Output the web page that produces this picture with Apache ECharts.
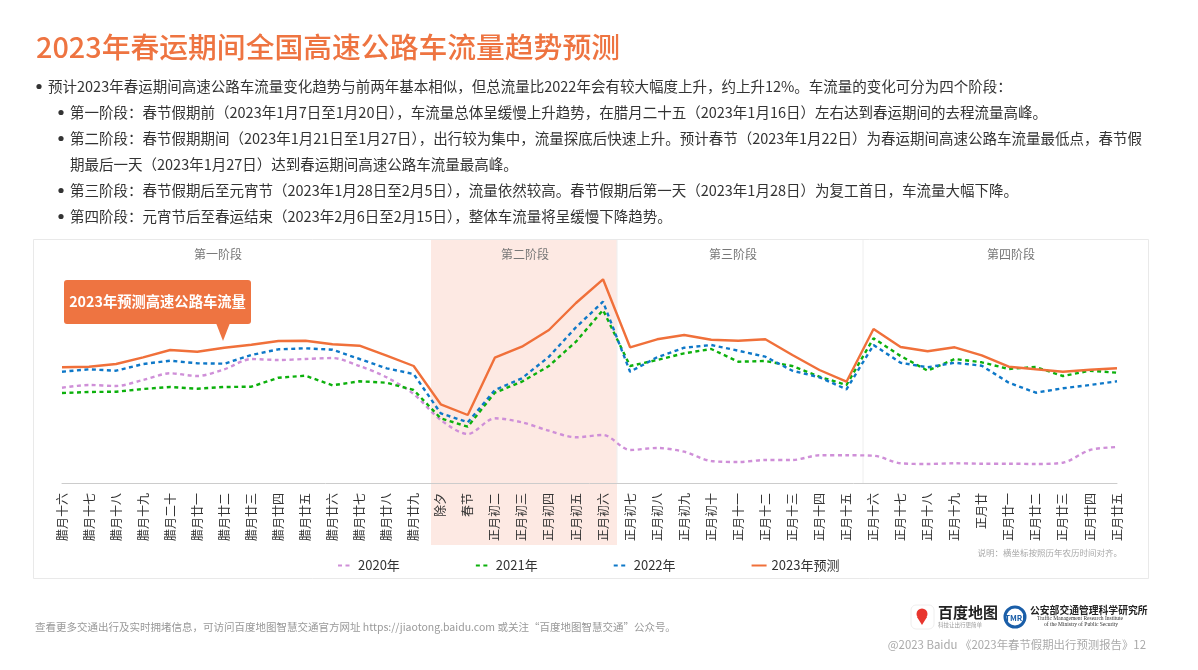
<!DOCTYPE html>
<html>
<head>
<meta charset="utf-8">
<title>2023年春运期间全国高速公路车流量趋势预测</title>
<script src="https://cdn.jsdelivr.net/npm/echarts@6/dist/echarts.min.js"></script>
<style>
  html, body { margin: 0; padding: 0; background: #fff; }
  #main { width: 1198px; height: 670px; }
</style>
</head>
<body>
<div id="main"></div>
<script>
// 横坐标：农历日期
var categories = ['腊月十六','腊月十七','腊月十八','腊月十九','腊月二十','腊月廿一','腊月廿二','腊月廿三','腊月廿四','腊月廿五','腊月廿六','腊月廿七','腊月廿八','腊月廿九','除夕','春节','正月初二','正月初三','正月初四','正月初五','正月初六','正月初七','正月初八','正月初九','正月初十','正月十一','正月十二','正月十三','正月十四','正月十五','正月十六','正月十七','正月十八','正月十九','正月廿','正月廿一','正月廿二','正月廿三','正月廿四','正月廿五'];

// 原图没有纵轴，数值为从图上读出的相对流量
var flow2020 = [95.3,98,97,103,109.7,107,113.7,124,123,124,125,117,105.7,89,63,49,64.7,60.7,52.3,45.7,48,33,35,31.3,22,21,23,23,27.7,27.7,27.3,19.7,19,19.7,19.3,19.3,19,20.3,33,36];
var flow2021 = [90,91,91.3,94,96,94.3,96,96.3,105.3,107.3,97.7,101.7,100.3,93,64.7,56.3,90.3,101.3,117,141.3,173,117,123,129.7,134,121.3,122,117,106.3,98,144.7,127,112.3,124,120.7,114,116,107,112.3,110.3];
var flow2022 = [111.3,113.7,112.3,119,122.3,119.7,119.3,128,133.7,134.7,133.3,124,114.7,109,69.7,60.7,93,104.7,126.3,155.7,181.3,111.3,125.7,135.3,138,132.3,126.3,112.3,105.7,93.7,138,120.3,115.7,120.3,117.3,100.3,90.3,94.7,98,101.7];
var flow2023 = [115.7,116.3,119,125.7,133,131.3,135.3,138.3,142,142.3,138.7,137.3,127.3,117,78.7,68,125.3,136.3,153,180,203.7,135.7,143.7,148,143.3,142.3,143.7,128,113,101.3,154,136,131.7,135.7,127.7,116.3,113.7,111.3,113.3,114.7];

var seriesNames = ['2020年','2021年','2022年','2023年预测'];
var phaseNames = ['第一阶段','第二阶段','第三阶段','第四阶段'];
var bodyLines = [
  '预计2023年春运期间高速公路车流量变化趋势与前两年基本相似，但总流量比2022年会有较大幅度上升，约上升12%。车流量的变化可分为四个阶段：',
  '第一阶段：春节假期前（2023年1月7日至1月20日），车流量总体呈缓慢上升趋势，在腊月二十五（2023年1月16日）左右达到春运期间的去程流量高峰。',
  '第二阶段：春节假期期间（2023年1月21日至1月27日），出行较为集中，流量探底后快速上升。预计春节（2023年1月22日）为春运期间高速公路车流量最低点，春节假',
  '期最后一天（2023年1月27日）达到春运期间高速公路车流量最高峰。',
  '第三阶段：春节假期后至元宵节（2023年1月28日至2月5日），流量依然较高。春节假期后第一天（2023年1月28日）为复工首日，车流量大幅下降。',
  '第四阶段：元宵节后至春运结束（2023年2月6日至2月15日），整体车流量将呈缓慢下降趋势。'
];

var FONT = '"Noto Sans CJK SC", "Noto Sans", sans-serif';
var ORANGE = '#ee7441';

function txt(x, y, s, size, color, extra) {
  var style = { x: x, y: y, text: s, fontFamily: FONT, fontSize: size, fill: color, textVerticalAlign: 'middle', textAlign: 'left' };
  for (var k in extra) style[k] = extra[k];
  return { type: 'text', z: 20, style: style };
}
function dot(x, y) {
  return { type: 'circle', z: 20, shape: { cx: x, cy: y, r: 2.6 }, style: { fill: '#333' } };
}

var graphics = [
  // 图表外框、第二阶段底色、分隔线
  { type: 'rect', z: -3, shape: { x: 33.5, y: 239.5, width: 1115, height: 339 }, style: { fill: '#fff', stroke: '#e9e9e9', lineWidth: 1 } },
  { type: 'rect', z: -2, shape: { x: 431, y: 240, width: 186, height: 305 }, style: { fill: '#fde9e3' } },
  { type: 'line', z: -2, shape: { x1: 617, y1: 240, x2: 617, y2: 483 }, style: { stroke: '#eeeeee', lineWidth: 1 } },
  { type: 'line', z: -2, shape: { x1: 863, y1: 240, x2: 863, y2: 483 }, style: { stroke: '#eeeeee', lineWidth: 1 } },
  txt(36, 47, '2023年春运期间全国高速公路车流量趋势预测', 28.8, ORANGE, { fontWeight: 500 }),
  // 标注气泡
  { type: 'rect', z: 10, shape: { x: 64, y: 280, width: 187, height: 44, r: 3 }, style: { fill: ORANGE } },
  { type: 'polygon', z: 10, shape: { points: [[216, 323], [230, 323], [223, 341]] }, style: { fill: ORANGE } },
  txt(157.5, 302, '2023年预测高速公路车流量', 14.3, '#fff', { textAlign: 'center', fontWeight: 700 }),
  // 说明与页脚
  txt(1122, 553, '说明：横坐标按照历年农历时间对齐。', 8.5, '#aaaaaa', { textAlign: 'right' }),
  txt(35, 627, '查看更多交通出行及实时拥堵信息，可访问百度地图智慧交通官方网址 https://jiaotong.baidu.com 或关注“百度地图智慧交通”公众号。', 10.5, '#999999'),
  txt(1146, 645, '@2023 Baidu 《2023年春节假期出行预测报告》12', 11.4, '#aaaaaa', { textAlign: 'right' }),
  // 百度地图标志
  { type: 'rect', z: 20, shape: { x: 911, y: 605, width: 23, height: 24, r: 5 }, style: { fill: '#fff', stroke: '#eeeeee' } },
  { type: 'circle', z: 21, shape: { cx: 922, cy: 614, r: 5.5 }, style: { fill: '#e8352e' } },
  { type: 'polygon', z: 21, shape: { points: [[917, 617], [927, 617], [922, 625]] }, style: { fill: '#e8352e' } },
  txt(938, 612, '百度地图', 15, '#222222', { fontWeight: 700 }),
  txt(938, 625, '科技让出行更简单', 5.5, '#999999'),
  // 公安部交通管理科学研究所标志
  { type: 'circle', z: 20, shape: { cx: 1015, cy: 617, r: 10 }, style: { fill: '#fff', stroke: '#1a5ea8', lineWidth: 3 } },
  txt(1015, 618, 'TMRI', 8, '#1a5ea8', { textAlign: 'center', fontWeight: 700 }),
  txt(1030, 610, '公安部交通管理科学研究所', 9.8, '#222222', { fontWeight: 700 }),
  txt(1037, 619, 'Traffic Management Research Institute', 5.5, '#333333', { fontFamily: '"Liberation Serif", serif' }),
  txt(1044, 625, 'of the Ministry of Public Security', 5.5, '#333333', { fontFamily: '"Liberation Serif", serif' })
];

// 正文
var bodyY = [86.5, 112.5, 138.5, 164.5, 190.5, 216.5];
bodyLines.forEach(function (line, i) {
  graphics.push(txt(i === 0 ? 48 : 70, bodyY[i], line, 14.5, '#333333'));
  if (i === 0) graphics.push(dot(39, bodyY[i]));
  else if (i !== 3) graphics.push(dot(61, bodyY[i]));
});

// 阶段标题
var phaseX = [218, 525, 733, 1011];
phaseNames.forEach(function (name, i) {
  graphics.push(txt(phaseX[i], 254, name, 12, '#777777', { textAlign: 'center' }));
});

function dashed(name, data, color, smooth) {
  return {
    name: name, type: 'line', data: data, symbol: 'none', smooth: smooth, z: 3,
    lineStyle: { color: color, width: 2.4, type: [4, 3.5] }, itemStyle: { color: color }
  };
}

var myChart = echarts.init(document.getElementById('main'));
var option = {
  animation: false,
  textStyle: { fontFamily: FONT },
  grid: { left: 62, right: 81, top: 243, bottom: 187 },
  legend: {
    left: 332, top: 554, itemWidth: 15, itemHeight: 8, itemGap: 75,
    data: seriesNames,
    itemStyle: { opacity: 0 },
    textStyle: { color: '#333333', fontSize: 13 }
  },
  xAxis: {
    type: 'category', data: categories, boundaryGap: false,
    axisTick: { show: false },
    axisLine: { lineStyle: { color: '#cccccc' } },
    axisLabel: { interval: 0, rotate: 90, margin: 10, color: '#333333', fontSize: 12, fontFamily: FONT }
  },
  yAxis: { type: 'value', min: 0, max: 240, show: false },
  series: [
    dashed(seriesNames[0], flow2020, '#cf8fd8', 0.3),
    dashed(seriesNames[1], flow2021, '#0cb00c', false),
    dashed(seriesNames[2], flow2022, '#0e78c8', false),
    {
      name: seriesNames[3], type: 'line', data: flow2023, symbol: 'none', z: 4,
      lineStyle: { color: '#f0703a', width: 2.4 }, itemStyle: { color: '#f0703a' }
    }
  ],
  graphic: graphics
};
myChart.setOption(option);
</script>
</body>
</html>
